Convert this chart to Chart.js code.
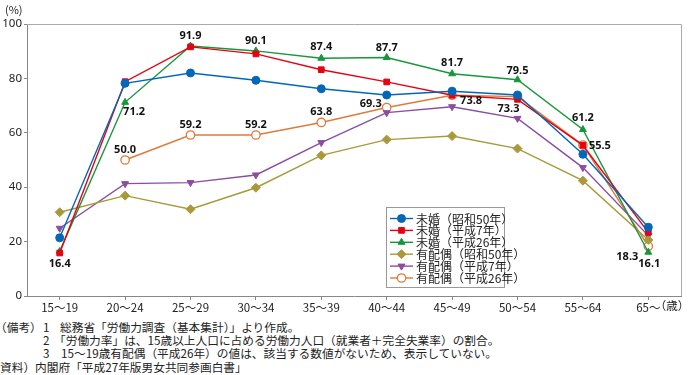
<!DOCTYPE html>
<html><head><meta charset="utf-8">
<script src="https://cdn.jsdelivr.net/npm/chart.js@4"></script>
<style>
html,body{margin:0;padding:0;background:#fff;}
#wrap{position:relative;width:688px;height:318px;}
#notes{font-family:"Noto Sans CJK JP",sans-serif;font-size:11.7px;color:#222;line-height:13.2px;margin-top:2px;}
#notes div{white-space:nowrap;height:13.2px;}
.h{display:inline-block;width:43px;}
.h0{display:inline-block;width:48px;margin-left:-5px;}
</style></head>
<body>
<div id="wrap"><canvas id="c" width="688" height="318"></canvas></div>
<div id="notes">
<div><span class="h0">（備考）</span><span style="display:inline-block;width:17px">1</span>総務省「労働力調査（基本集計）」より作成。</div>
<div><span class="h"></span><span style="display:inline-block;width:11px">2</span>「労働力率」は、15歳以上人口に占める労働力人口（就業者＋完全失業率）の割合。</div>
<div><span class="h"></span><span style="display:inline-block;width:18px">3</span>15～19歳有配偶（平成26年）の値は、該当する数値がないため、表示していない。</div>
<div>資料）内閣府「平成27年版男女共同参画白書」</div>
</div>
<script>
const categories = ["15～19","20～24","25～29","30～34","35～39","40～44","45～49","50～54","55～64","65～"];
const seriesNames = ["未婚（昭和50年）","未婚（平成7年）","未婚（平成26年）","有配偶（昭和50年）","有配偶（平成7年）","有配偶（平成26年）"];
const unmarriedS50 = [21.4, 78.2, 82.0, 79.3, 76.2, 73.9, 75.3, 73.9, 52.1, 25.3];
const unmarriedH7  = [15.8, 78.8, 91.6, 89.0, 83.2, 78.7, 73.8, 72.3, 55.4, 23.4];
const unmarriedH26 = [16.4, 71.2, 91.9, 90.1, 87.4, 87.7, 81.7, 79.5, 61.2, 16.1];
const marriedS50   = [30.8, 36.9, 31.9, 39.8, 51.7, 57.5, 58.8, 54.2, 42.4, 20.6];
const marriedH7    = [24.9, 41.3, 41.7, 44.5, 56.4, 67.4, 69.6, 65.3, 47.2, 22.2];
const marriedH26   = [null, 50.0, 59.2, 59.2, 63.8, 69.3, 73.8, 73.3, 55.5, 18.3];
const yTicks = [0, 20, 40, 60, 80, 100];

// label offsets (text centre relative to point), style only
const offH26u = [[0,12],[9,10],[0,-10],[0,-10],[0,-11],[0,-10],[0,-11],[0,-9],[0,-12],[1,12]];
const offH26m = [null,[0,-10],[0,-10],[0,-10],[0,-11],[-16,-4],[19,6],[-9,12],[17,1],[-21,11]];

const colors = ["#0068b7","#e60012","#17973c","#a89a3a","#8a4d9f","#e07a3c"];
const styles = ["circle","rect","triangle","rectRot","triangle","circle"];
const values = [unmarriedS50, unmarriedH7, unmarriedH26, marriedS50, marriedH7, marriedH26];

const datasets = values.map((v,i)=>({
  label: seriesNames[i],
  data: v,
  borderColor: colors[i],
  backgroundColor: i===5 ? "#ffffff" : colors[i],
  pointBackgroundColor: i===5 ? "#ffffff" : colors[i],
  pointBorderColor: colors[i],
  pointStyle: styles[i],
  pointRotation: i===4 ? 180 : 0,
  pointRadius: i===3 ? 4.5 : (i===5 ? 4.2 : 4),
  pointBorderWidth: i===5 ? 1.3 : 1,
  borderWidth: 1.4,
  tension: 0,
  spanGaps: false,
  labelOffsets: i===2 ? offH26u : (i===5 ? offH26m : null)
}));

const extras = {
  id: "extras",
  afterDatasetsDraw(chart) {
    const ctx = chart.ctx;
    ctx.save();
    // data labels
    ctx.font = "bold 11px 'Noto Sans', 'DejaVu Sans', sans-serif";
    ctx.fillStyle = "#111";
    ctx.textAlign = "center";
    ctx.textBaseline = "middle";
    chart.data.datasets.forEach((ds, di) => {
      if (!ds.labelOffsets) return;
      const meta = chart.getDatasetMeta(di);
      ds.data.forEach((v, j) => {
        if (v === null || !ds.labelOffsets[j]) return;
        const p = meta.data[j];
        ctx.fillText(v.toFixed(1), p.x + ds.labelOffsets[j][0], p.y + ds.labelOffsets[j][1]);
      });
    });
    // legend
    const lx = 386, ly = 207, lw = 118, lh = 80;
    ctx.fillStyle = "#fff";
    ctx.fillRect(lx, ly, lw, lh);
    ctx.strokeStyle = "#999";
    ctx.lineWidth = 1;
    ctx.strokeRect(lx + 0.5, ly + 0.5, lw, lh);
    ctx.font = "12px 'Noto Sans CJK JP', sans-serif";
    ctx.textAlign = "left";
    chart.data.datasets.forEach((ds, i) => {
      const y = 218.5 + i * 11.9;
      ctx.strokeStyle = ds.borderColor;
      ctx.lineWidth = 1.4;
      ctx.beginPath(); ctx.moveTo(lx + 4, y); ctx.lineTo(lx + 27, y); ctx.stroke();
      ctx.fillStyle = ds.pointBackgroundColor;
      ctx.strokeStyle = ds.pointBorderColor;
      ctx.lineWidth = ds.pointBorderWidth;
      Chart.helpers.drawPoint(ctx, {pointStyle: ds.pointStyle, rotation: ds.pointRotation, radius: ds.pointRadius, borderWidth: ds.pointBorderWidth}, lx + 15.5, y);
      ctx.fillStyle = "#222";
      ctx.fillText(ds.label, lx + 30, y + 0.5);
    });
    // unit labels
    ctx.font = "11px 'Noto Sans CJK JP', sans-serif";
    ctx.fillStyle = "#222";
    ctx.textAlign = "left";
    ctx.fillText("(%)", 5, 10);
    ctx.textAlign = "center";
    ctx.font = "11.5px 'Noto Sans CJK JP', sans-serif";
    ctx.fillText("（歳）", 672, 306);
    // top and right border
    const a = chart.chartArea;
    ctx.strokeStyle = "#aaa";
    ctx.lineWidth = 1;
    ctx.beginPath();
    ctx.moveTo(a.left, a.top + 0.5); ctx.lineTo(a.right + 0.5, a.top + 0.5); ctx.lineTo(a.right + 0.5, a.bottom);
    ctx.stroke();
    ctx.restore();
  }
};

new Chart(document.getElementById("c"), {
  type: "line",
  data: { labels: categories, datasets },
  options: {
    responsive: false,
    animation: false,
    events: [],
    layout: { padding: { top: 24, right: 7, left: 0, bottom: 0 } },
    plugins: { legend: { display: false }, tooltip: { enabled: false } },
    scales: {
      x: {
        type: "category",
        offset: true,
        grid: { display: true, drawOnChartArea: false, drawTicks: true, tickLength: 4, color: "#888" },
        border: { color: "#888", width: 1 },
        ticks: { color: "#222", font: { size: 11.5, family: "'Noto Sans CJK JP', sans-serif" }, padding: 1, maxRotation: 0, autoSkip: false },
        afterFit(s) { s.height = 22; }
      },
      y: {
        min: 0, max: 100,
        afterBuildTicks(s) { s.ticks = yTicks.map(v => ({ value: v })); },
        grid: { display: true, drawOnChartArea: false, drawTicks: true, tickLength: 3, color: "#888" },
        border: { color: "#888", width: 1 },
        ticks: { color: "#222", font: { size: 11.5, family: "'Noto Sans', sans-serif" }, padding: 2 },
        afterFit(s) { s.width = 27; }
      }
    }
  },
  plugins: [extras]
});
</script>
</body></html>
